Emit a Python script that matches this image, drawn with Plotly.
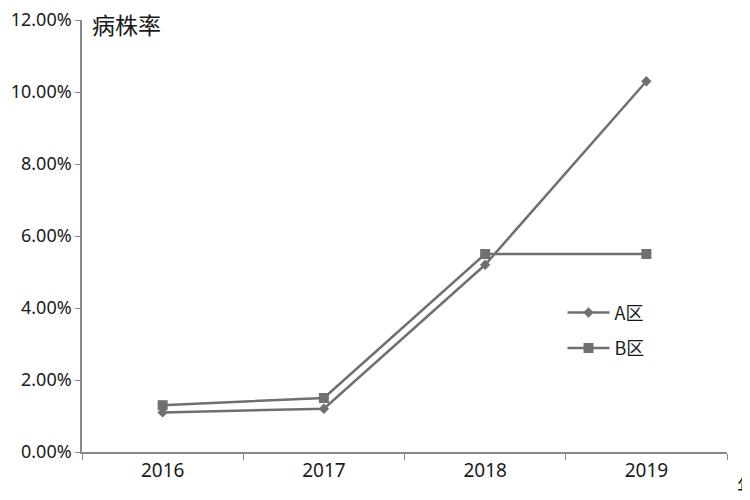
import plotly.graph_objects as go

# chart data
years = ["2016", "2017", "2018", "2019"]
rate_a = [0.011, 0.012, 0.052, 0.103]
rate_b = [0.013, 0.015, 0.055, 0.055]
y_ticks = [0, 0.02, 0.04, 0.06, 0.08, 0.10, 0.12]

gray = "#707070"
x_font = dict(family="Noto Sans, DejaVu Sans", size=19, color="#1a1a1a")
y_font = dict(family="Noto Sans, DejaVu Sans", size=18, color="#1a1a1a")

fig = go.Figure()
fig.add_trace(go.Scatter(x=years, y=rate_a, name="A区", mode="lines+markers",
                         line=dict(color=gray, width=2.5),
                         marker=dict(symbol="diamond", size=8, color=gray),
                         legendgroup="a"))
fig.add_trace(go.Scatter(x=years, y=rate_b, name="B区", mode="lines+markers",
                         line=dict(color=gray, width=2.5),
                         marker=dict(symbol="square", size=10, color=gray),
                         legendgroup="b"))

# page body has an 8px margin, so the figure sits at (8, 8)
fig.update_layout(
    width=742, height=492,
    margin=dict(l=74, r=23, t=12, b=48, autoexpand=False),
    plot_bgcolor="white", paper_bgcolor="white",
    font=dict(family="Noto Sans CJK SC, DejaVu Sans", color="#222"),
    legend=dict(x=0.745, y=0.365, xanchor="left", yanchor="top",
                font=dict(size=18, family="Noto Sans CJK SC", color="#1a1a1a"),
                bgcolor="rgba(0,0,0,0)", tracegroupgap=9, itemwidth=42,
                traceorder="grouped"),
    showlegend=True,
)
fig.update_xaxes(
    type="category", range=[-0.5, 3.5], tickson="boundaries",
    showline=True, linecolor="#888", linewidth=1.5,
    ticks="outside", ticklen=6, tickcolor="#888",
    showgrid=False, tickfont=x_font, automargin=False,
)
fig.update_yaxes(
    range=[0, 0.12], tickvals=y_ticks, tickformat=".2%",
    showline=True, linecolor="#888", linewidth=1.5,
    ticks="outside", ticklen=5, tickcolor="#888",
    showgrid=False, zeroline=False, tickfont=y_font, automargin=False,
    ticklabeloverflow="allow",
)

fig.add_annotation(text="病株率", xref="paper", yref="paper", x=0.013, y=0.99,
                   xanchor="left", yanchor="middle", showarrow=False,
                   font=dict(size=23, family="Noto Sans CJK SC", color="#1a1a1a"))
fig.add_annotation(text="年", xref="paper", yref="paper", x=1.013, y=-0.075,
                   xanchor="left", yanchor="middle", showarrow=False,
                   font=dict(size=21, family="Noto Sans CJK SC", color="#1a1a1a"))

fig.write_html("out.html")
